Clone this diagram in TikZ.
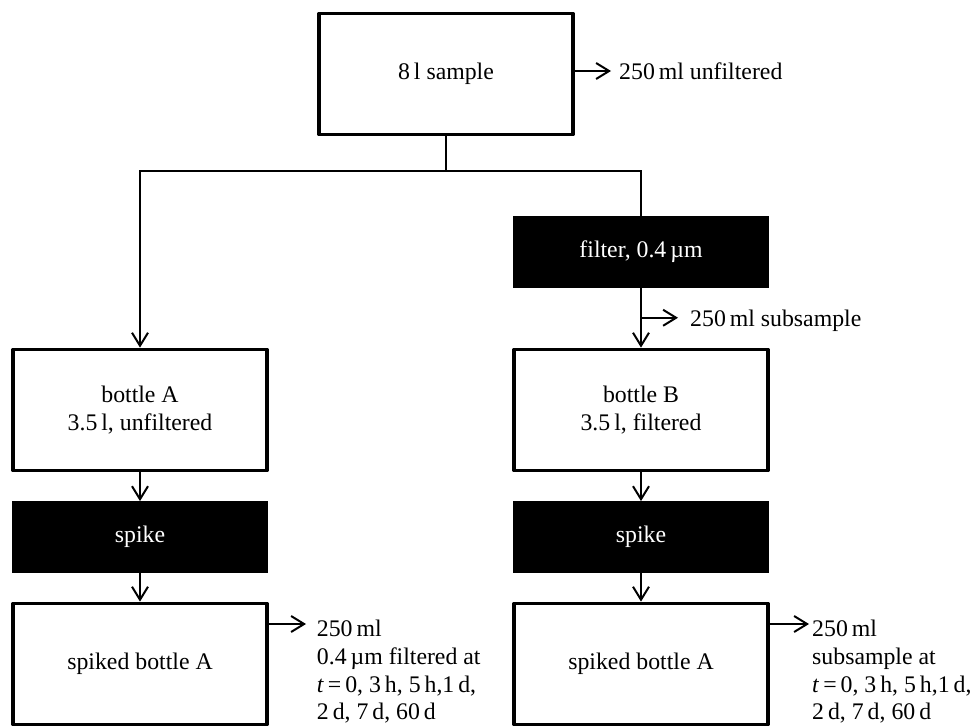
\documentclass[tikz,border=0pt]{standalone}
\usepackage{fontspec}
\setmainfont{Liberation Serif}
\usepackage{tikz}
\usetikzlibrary{arrows.meta,positioning,calc}

\begin{document}
\begin{tikzpicture}[x=0.03cm,y=-0.03cm,
  font=\fontsize{20.3}{23.6}\selectfont,
  vessel/.style={draw=black,line width=3.2pt,line join=round,fill=white,minimum width=7.62cm,minimum height=3.63cm,inner sep=0pt,align=center},
  treat/.style={fill=black,text=white,minimum width=7.68cm,minimum height=2.14cm,inner sep=0pt,align=center},
  flow/.style={line width=1.7pt,-{Straight Barb[length=3.9mm,width=4.8mm]}},
  pipe/.style={line width=1.7pt},
  note/.style={inner sep=0pt,align=left}]
\useasboundingbox (0,0) rectangle (978,726);
\node[vessel] (sample) at (446,74) {8\,l sample};
\node[treat] (filter) at (641,252) {filter, 0.4\,µm};
\foreach \s/\x/\desc in {A/140/unfiltered, B/641/filtered}{
  \node[vessel] (bottle\s) at (\x,410) {bottle \s\\3.5\,l, \desc};
  \node[treat] (spike\s) at (\x,537) {spike};
  \node[vessel] (spiked\s) at (\x,664) {spiked bottle A};
  \draw[flow] (bottle\s) -- (spike\s);
  \draw[flow] (spike\s) -- (spiked\s);
}
% split below the sample
\coordinate (split) at ($(sample.south)+(0,35)$);
\draw[pipe] (sample.south) -- (split);
\draw[flow] (split) -| (bottleA.north);
\draw[pipe] (split) -| (filter.north);
\draw[flow] (filter) -- (bottleB);
% subsamples taken off
\coordinate (tapS) at (611,71);
\draw[flow] (sample.east |- tapS) -- (tapS);
\node[note,anchor=base west] (unfilt) at (619,79) {250\,ml unfiltered};
\coordinate (offF) at ($(filter.south)!0.5!(bottleB.north)$);
\coordinate (tapF) at ($(offF)+(37,0)$);
\draw[flow] (offF) -- (tapF);
\node[note,anchor=base west] (subs) at (690,326) {250\,ml subsample};
\coordinate (tapA) at (306,624);
\draw[flow] (spikedA.east |- tapA) -- (tapA);
\node[note,anchor=north west] (timesA) at (316.7,620) {250\,ml\\0.4\,µm filtered at\\\textit{t}\,=\,0, 3\,h, 5\,h,1\,d,\\2\,d, 7\,d, 60\,d};
\coordinate (tapB) at (809,624);
\draw[flow] (spikedB.east |- tapB) -- (tapB);
\node[note,anchor=north west] (timesB) at (812,620) {250\,ml\\subsample at\\\textit{t}\,=\,0, 3\,h, 5\,h,1\,d,\\2\,d, 7\,d, 60\,d};
\end{tikzpicture}
\end{document}
